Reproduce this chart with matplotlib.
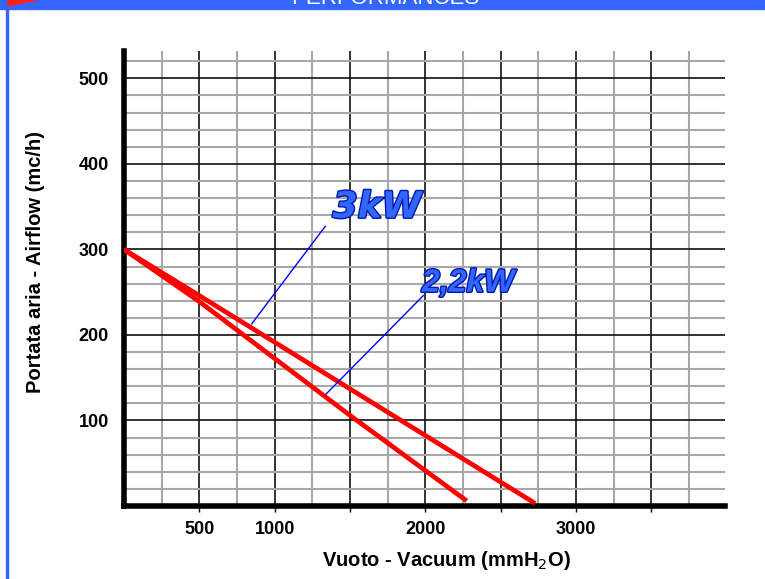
import matplotlib
matplotlib.use('Agg')
from matplotlib import pyplot as plt
from matplotlib.patches import Rectangle, Polygon
import matplotlib.patheffects as pe

# curves
vac_3kw = [0, 500, 1500, 2730]
air_3kw = [300, 246, 137, 3]
vac_22kw = [0, 500, 1500, 2275]
air_22kw = [300, 239, 106, 6]

x_major = [500, 1000, 1500, 2000, 2500, 3000, 3500]
x_labels = ['500', '1000', '', '2000', '', '3000', '']
y_major = [100, 200, 300, 400, 500]

W, H = 765, 579
fig = plt.figure(figsize=(W / 100, H / 100), dpi=100)
ax = fig.add_axes([124 / W, (H - 506) / H, 601 / W, 455 / H])

ax.set_xlim(0, 3990)
ax.set_ylim(0, 532)

# grid
ax.set_xticks(x_major)
ax.set_xticklabels(x_labels)
ax.set_xticks(range(250, 4000, 500), minor=True)
ax.set_yticks(y_major)
ax.set_yticks([v for v in range(20, 530, 20) if v % 100], minor=True)
ax.grid(which='minor', color='#a8a8a8', lw=1.5)
ax.grid(which='major', color='#111111', lw=1.2)
ax.set_axisbelow(True)

for s in ['top', 'right']:
    ax.spines[s].set_visible(False)
ax.spines['left'].set_linewidth(4)
ax.spines['bottom'].set_linewidth(4)

ax.tick_params(axis='x', which='major', length=4, width=1, pad=7, direction='out')
ax.tick_params(axis='y', which='major', length=0, pad=11)
ax.tick_params(which='minor', length=0)
for lab in ax.get_xticklabels() + ax.get_yticklabels():
    lab.set_fontfamily('Liberation Sans')
    lab.set_fontweight('bold')
    lab.set_fontsize(13)

ax.plot(vac_3kw, air_3kw, color='#ff0000', lw=3.4, solid_capstyle='butt', zorder=3)
ax.plot(vac_22kw, air_22kw, color='#ff0000', lw=3.4, solid_capstyle='butt', zorder=3)

# labels with leader lines
ax.plot([848, 1336], [213, 327], color='#0000ff', lw=1, zorder=4)
ax.plot([1342, 1987], [131, 246], color='#0000ff', lw=1, zorder=4)
outline = [pe.withStroke(linewidth=2, foreground='#0018b0')]
ax.text(1680, 349, '3kW', color='#3366ff', fontsize=26, fontweight='bold',
        fontstyle='italic', family='DejaVu Sans', ha='center', va='center',
        path_effects=outline, zorder=5)
ax.text(2285, 260, '2,2kW', color='#3366ff', fontsize=23, fontweight='bold',
        fontstyle='italic', family='Liberation Sans',
        ha='center', va='center', path_effects=outline, zorder=5)

ax.set_xlabel('Vuoto - Vacuum (mmH$_2$O)', fontsize=14.5, fontweight='bold',
              family='Liberation Sans', labelpad=8)
ax.set_ylabel('Portata aria - Airflow (mc/h)', fontsize=14.5, fontweight='bold',
              family='Liberation Sans', labelpad=24)
ax.xaxis.label.set_x(0.536)
ax.yaxis.label.set_y(0.536)

# page frame: banner on top, blue rule at left, red corner
fig.patches.append(Rectangle((0, 1 - 9 / H), 1, 9 / H, transform=fig.transFigure,
                             color='#3366ff', zorder=0))
fig.patches.append(Rectangle((6 / W, 0), 2 / W, 1, transform=fig.transFigure,
                             color='#3366ff', zorder=0))
fig.patches.append(Polygon([(8 / W, 1), (37 / W, 1), (8 / W, 1 - 6 / H)],
                           transform=fig.transFigure, color='#ff2020', zorder=1))
fig.text(385 / W, 1 - 4 / H, 'PERFORMANCES', color='white', fontsize=16,
         family='Liberation Sans', ha='center', va='baseline', zorder=3)

fig.savefig('out.png', dpi=100)
